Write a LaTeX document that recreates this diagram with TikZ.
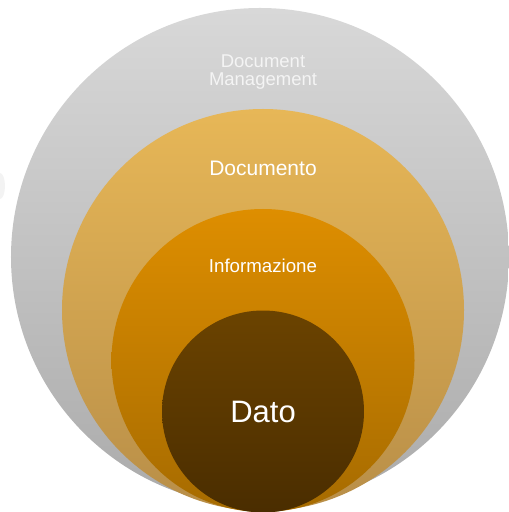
\documentclass[tikz,border=0pt]{standalone}
\usepackage{fontspec}
\setmainfont{Liberation Sans}
\definecolor{grayTop}{HTML}{D8D8D8}
\definecolor{grayBot}{HTML}{ABABAB}
\definecolor{goldTop}{HTML}{E7B757}
\definecolor{goldBot}{HTML}{B88E48}
\definecolor{orTop}{HTML}{DE8E00}
\definecolor{orBot}{HTML}{A66B00}
\definecolor{brTop}{HTML}{6B4300}
\definecolor{brBot}{HTML}{4A2D00}
\definecolor{lbl}{HTML}{F4F4F4}
\tikzset{
  ring/.style={circle, draw=none, inner sep=0pt, outer sep=0pt},
  lab/.style={anchor=base, inner sep=0pt, text=white},
}
\begin{document}
\begin{tikzpicture}[x=1bp, y=-1bp]
\useasboundingbox (0,0) rectangle (509,512);
\clip (0,0) rectangle (509,512);
\fill[gray!12, opacity=0.8] (0,186) ellipse [x radius=5, y radius=13];
\node[ring, minimum size=498bp, top color=grayTop, bottom color=grayBot] (outer) at (260,257) {};
\node[ring, minimum size=402bp, top color=goldTop, bottom color=goldBot] (gold) at (263,310) {};
\node[ring, minimum size=303bp, top color=orTop, bottom color=orBot] (orange) at (263,360.5) {};
\node[ring, minimum size=202bp, top color=brTop, bottom color=brBot] (dato) at (263,411.5) {};
\node[lab, text=lbl, font=\fontsize{18.5bp}{19bp}\selectfont] (t1) at (263,67.7) {Document};
\node[lab, text=lbl, font=\fontsize{18.5bp}{19bp}\selectfont] (t2) at (263,86) {Management};
\node[lab, font=\fontsize{21bp}{22bp}\selectfont] (t3) at (263,176) {Documento};
\node[lab, font=\fontsize{18.7bp}{19bp}\selectfont] (t4) at (263,272) {Informazione};
\node[lab, font=\fontsize{31bp}{32bp}\selectfont] (t5) at (263,422) {Dato};
\end{tikzpicture}
\end{document}
